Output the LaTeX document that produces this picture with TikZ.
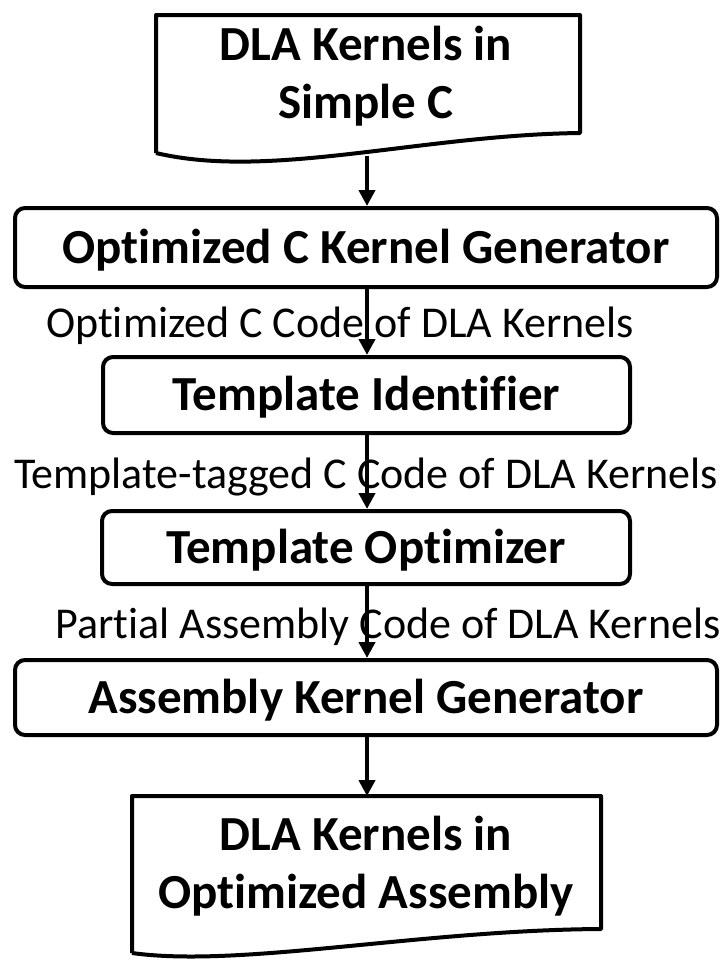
\documentclass[tikz,border=0pt]{standalone}
\usepackage{fontspec}
\setmainfont{Carlito}[Ligatures={NoCommon}]
\usetikzlibrary{arrows.meta}
\begin{document}
\begin{tikzpicture}[x=1pt,y=-1pt,
  line width=4pt,
  boxstyle/.style={draw=black, rounded corners=10pt, inner sep=0pt, anchor=center,
    text height=31pt, text depth=0pt, font=\bfseries\fontsize{49}{59}\selectfont},
  doctext/.style={align=center, inner sep=0pt, font=\bfseries\fontsize{49}{58}\selectfont},
  lbl/.style={anchor=base, inner sep=0pt, font=\fontsize{44}{50}\selectfont},
  arr/.style={-{Triangle[width=16pt,length=16pt]}, line width=4pt}
]
\useasboundingbox (0,0) rectangle (728,959);
\fill[white] (0,0) rectangle (728,959);

% top document shape
\draw[line join=round] (156,153) -- (156,15) -- (580,15) -- (580,133)
  .. controls (420,135) and (270,180) .. (156,153);
\node[doctext] (doc1) at (366,76) {DLA Kernels in\\Simple C};
\coordinate (d1bot) at (367,156);

% boxes
\node[boxstyle, minimum width=702pt, minimum height=79pt] (b1) at (366,247.5) {Optimized C Kernel Generator};
\node[boxstyle, minimum width=527pt, minimum height=76pt] (b2) at (366.5,395) {Template Identifier};
\node[boxstyle, minimum width=528pt, minimum height=73pt] (b3) at (366,547.5) {Template Optimizer};
\node[boxstyle, minimum width=702pt, minimum height=75pt] (b4) at (366,697.5) {Assembly Kernel Generator};

% bottom document shape
\draw[line join=round] (132,953) -- (132,796) -- (601,796) -- (601,929)
  .. controls (420,930) and (240,968) .. (132,953);
\node[doctext] (doc2) at (366,866) {DLA Kernels in\\Optimized Assembly};
\coordinate (d2top) at (367,796);

% labels
\node[lbl] (l1) at (340,337) {Optimized C Code of DLA Kernels};
\node[lbl] (l2) at (366,488) {Template-tagged C Code of DLA Kernels};
\node[lbl] (l3) at (388,638) {Partial Assembly Code of DLA Kernels};

% arrows
\draw[arr] (d1bot) -- (b1.north -| d1bot);
\draw[arr] (b1.south -| d1bot) -- (b2.north -| d1bot);
\draw[arr] (b2.south -| d1bot) -- (b3.north -| d1bot);
\draw[arr] (b3.south -| d1bot) -- (b4.north -| d1bot);
\draw[arr] (b4.south -| d1bot) -- (d2top);
\end{tikzpicture}
\end{document}
